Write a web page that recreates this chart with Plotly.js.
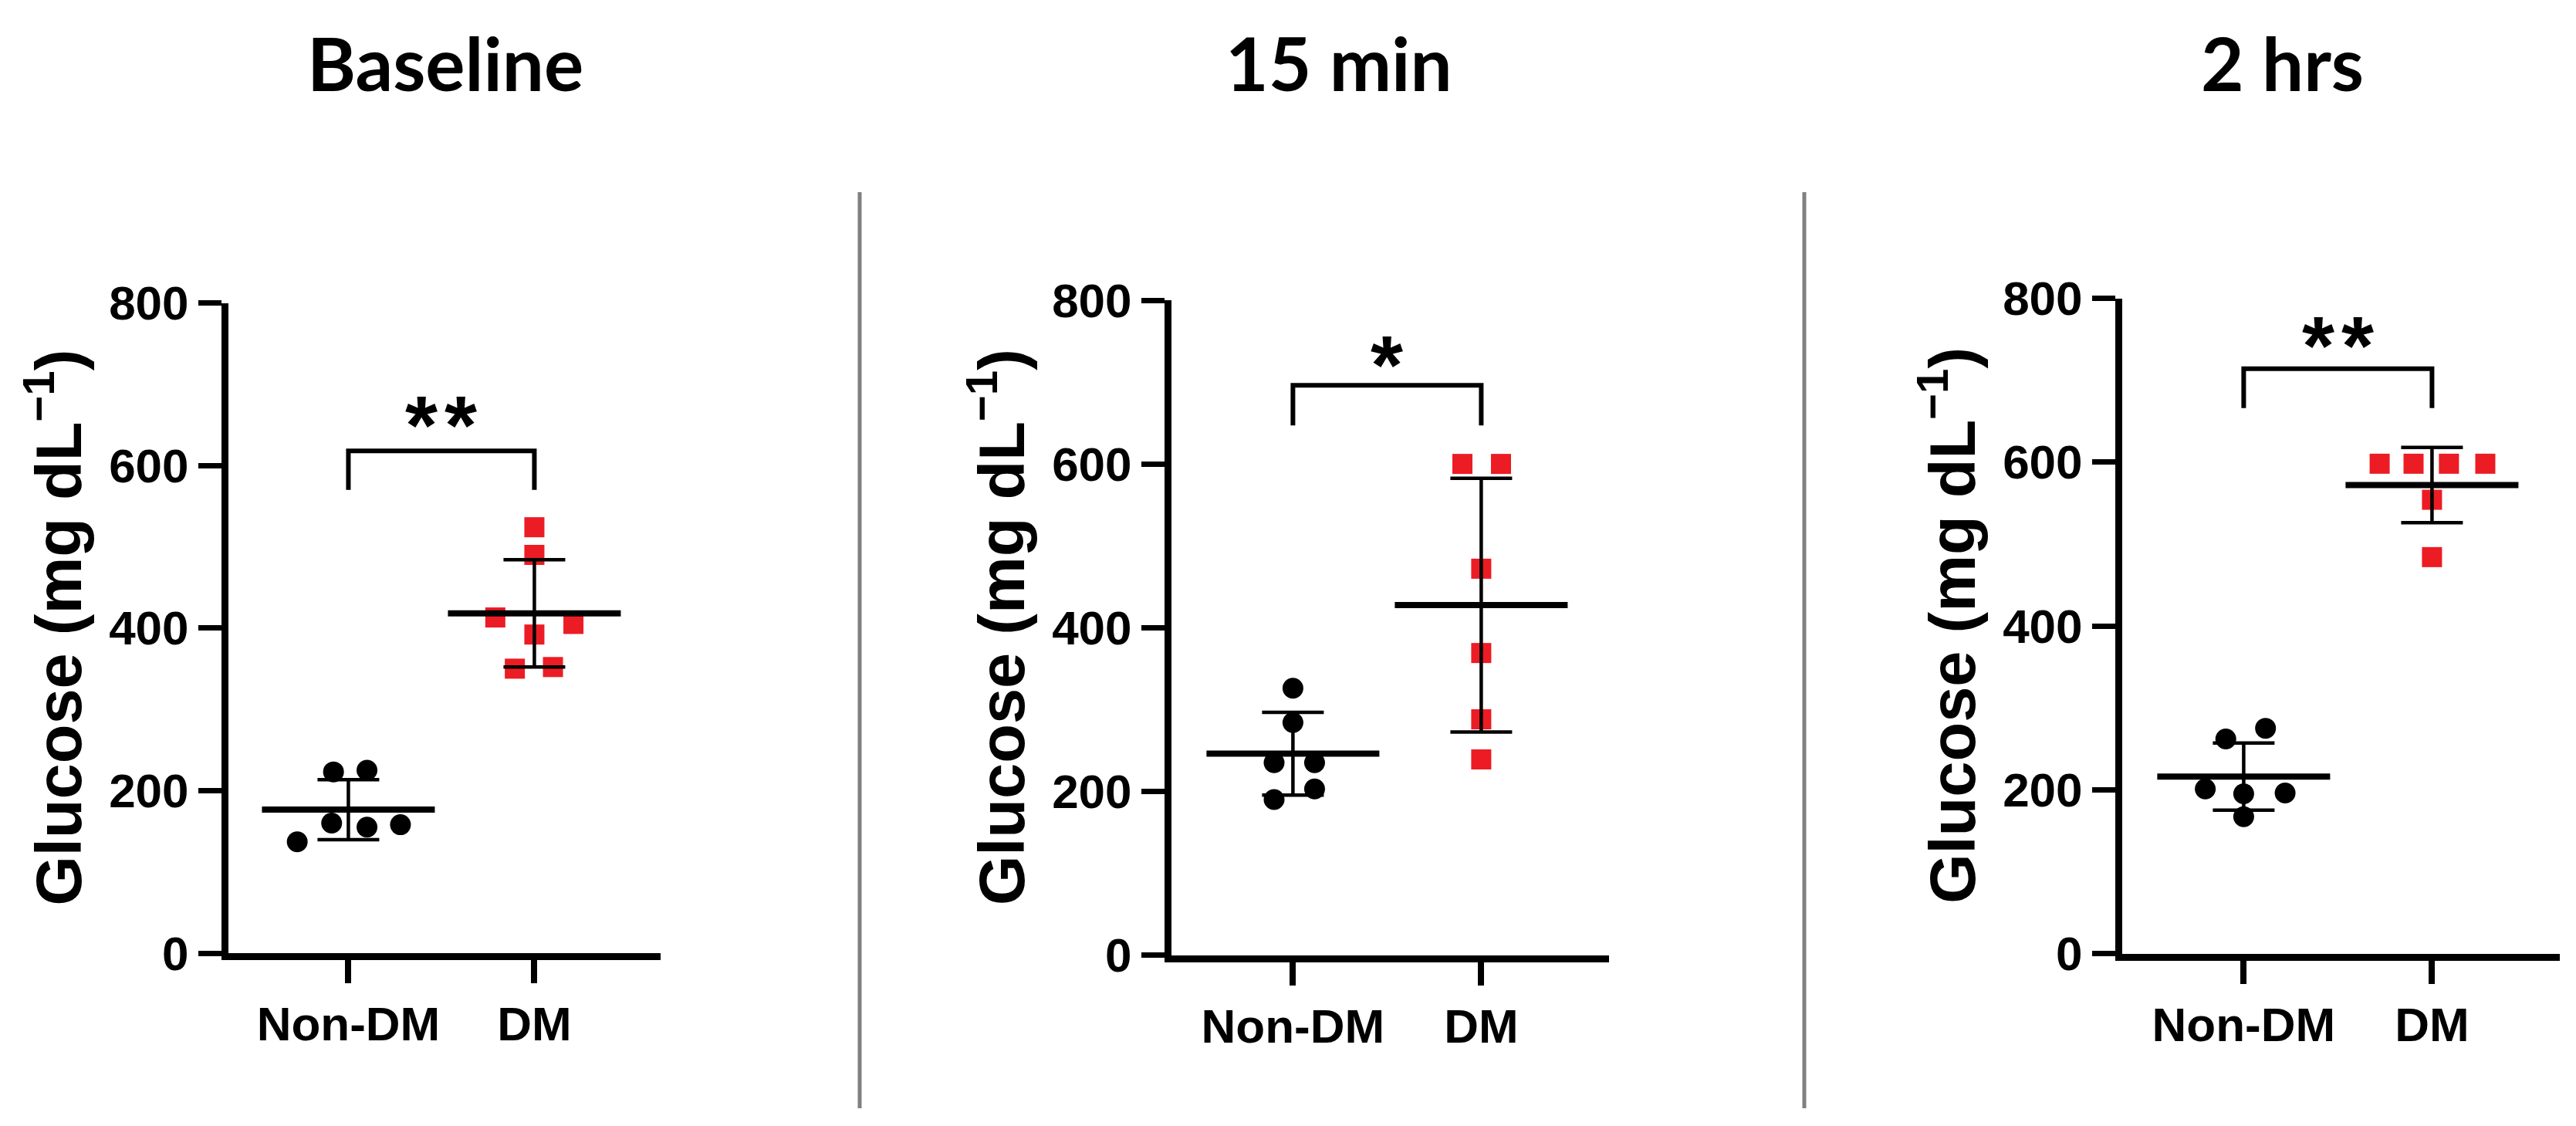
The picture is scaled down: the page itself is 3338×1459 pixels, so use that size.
<!DOCTYPE html>
<html><head><meta charset="utf-8">
<script src="https://cdn.plot.ly/plotly-3.0.1.min.js"></script>
<style>html,body{margin:0;padding:0;background:#fff;}</style>
</head><body><div id="chart" style="width:3338px;height:1459px;"></div>
<script>
// ---------- data ----------
const panelTitles = ['Baseline', '15 min', '2 hrs'];
const categories = ['Non-DM', 'DM'];
const yTickVals = [0, 200, 400, 600, 800];
const yAxisTitle = 'Glucose (mg dL<sup>−1</sup>)';

// Baseline
const baselineNonDM = [223, 225, 160, 155, 158, 137];
const baselineNonDMJitter = [-0.08, 0.10, -0.09, 0.10, 0.28, -0.275];
const baselineDM = [524, 490, 413, 405, 392, 350, 352];
const baselineDMJitter = [0, 0, -0.21, 0.21, 0, -0.105, 0.10];

// 15 min
const min15NonDM = [326, 284, 235, 235, 203, 190];
const min15NonDMJitter = [0, 0, -0.10, 0.115, 0.115, -0.10];
const min15DM = [600, 600, 472, 369, 288, 239];
const min15DMJitter = [-0.10, 0.105, 0, 0, 0, 0];

// 2 hrs
const hrs2NonDM = [262, 275, 201, 195, 196, 167];
const hrs2NonDMJitter = [-0.095, 0.116, -0.204, 0, 0.22, 0];
const hrs2DM = [598, 598, 598, 598, 554, 484];
const hrs2DMJitter = [-0.278, -0.098, 0.09, 0.283, 0, 0];

// mean and SD (as drawn)
const meanNonDM = [176.5, 246, 216];
const sdNonDM = [37, 50.5, 41];
const meanDM = [418, 427.5, 572];
const sdDM = [66, 155, 46];

// significance brackets
const sigLabels = ['**', '*', '**'];
const bracketTop = [618, 696, 714];
const bracketLeg = [570, 647, 666];
const sigY = [673, 744, 765];

// ---------- layout helpers ----------
const W = 3338, H = 1459;
const px = v => v / W;
const py = v => 1 - v / H;

const nonDMSets = [baselineNonDM, min15NonDM, hrs2NonDM];
const nonDMJit = [baselineNonDMJitter, min15NonDMJitter, hrs2NonDMJitter];
const dmSets = [baselineDM, min15DM, hrs2DM];
const dmJit = [baselineDMJitter, min15DMJitter, hrs2DMJitter];

// plot-area pixel boxes [left, right, top, bottom]
const boxes = [
  [296, 855.6, 392.5, 1235],
  [1518, 2084.6, 389, 1237.5],
  [2750, 3316.6, 386.5, 1235.5]
];
const axisLineX = [292, 1514, 2746];
const titleCenters = [577, 1735, 2957];

const FONT = '"Liberation Sans", Arial, sans-serif';
const RED = 'rgb(236,28,36)';

const traces = [];
const layout = {
  width: W, height: H,
  margin: {l: 0, r: 0, t: 0, b: 0},
  paper_bgcolor: '#fff', plot_bgcolor: '#fff',
  showlegend: false,
  shapes: [], annotations: []
};

for (let i = 0; i < 3; i++) {
  const n = i === 0 ? '' : String(i + 1);
  const xa = 'x' + n, ya = 'y' + n;
  const b = boxes[i];

  traces.push({
    type: 'scatter', mode: 'markers', xaxis: xa, yaxis: ya,
    x: nonDMJit[i].map(j => 0 + j), y: nonDMSets[i],
    marker: {symbol: 'circle', size: 27, color: '#000'},
    hoverinfo: 'y'
  });
  traces.push({
    type: 'scatter', mode: 'markers', xaxis: xa, yaxis: ya,
    x: dmJit[i].map(j => 1 + j), y: dmSets[i],
    marker: {symbol: 'square', size: 26, color: RED},
    hoverinfo: 'y'
  });
  traces.push({
    type: 'scatter', mode: 'markers', xaxis: xa, yaxis: ya,
    x: [0, 1], y: [meanNonDM[i], meanDM[i]],
    error_y: {type: 'data', array: [sdNonDM[i], sdDM[i]], visible: true,
              color: '#000', thickness: 4.5, width: 40},
    marker: {symbol: 'line-ew', size: 160, color: '#000',
             line: {color: '#000', width: 8}},
    hoverinfo: 'y'
  });

  const axCommon = {
    showline: true, linewidth: 9, linecolor: '#000',
    ticks: 'outside', ticklen: 30, tickcolor: '#000',
    tickfont: {family: FONT, size: 62, color: '#000', weight: 'bold'},
    showgrid: false, zeroline: false, fixedrange: true
  };
  layout['xaxis' + n] = Object.assign({}, axCommon, {
    domain: [px(b[0]), px(b[1])], range: [-0.645, 1.677],
    tickvals: [0, 1], ticktext: categories, tickwidth: 8,
    anchor: ya
  });
  layout['yaxis' + n] = Object.assign({}, axCommon, {
    domain: [py(b[3]), py(b[2])], range: [0, 800],
    tickvals: yTickVals, tickwidth: 7,
    anchor: xa
  });

  // significance bracket
  layout.shapes.push({
    type: 'path', xref: xa, yref: ya,
    path: `M 0,${bracketLeg[i]} L 0,${bracketTop[i]} L 1,${bracketTop[i]} L 1,${bracketLeg[i]}`,
    line: {color: '#000', width: 6}
  });
  layout.annotations.push({
    xref: xa, yref: ya, x: 0.5, y: sigY[i], text: sigLabels[i].split('').join('\u200A'),
    showarrow: false, xanchor: 'center', yanchor: 'middle', yshift: -24,
    font: {family: FONT, size: 108, color: '#000', weight: 'bold'}
  });

  // y-axis title
  layout.annotations.push({
    xref: 'paper', yref: 'paper',
    x: px(axisLineX[i] - 222), y: py((b[2] + b[3]) / 2),
    text: yAxisTitle, textangle: -90, showarrow: false,
    xanchor: 'center', yanchor: 'middle',
    font: {family: FONT, size: 83, color: '#000', weight: 'bold'}
  });

  // panel title
  layout.annotations.push({
    xref: 'paper', yref: 'paper',
    x: px(titleCenters[i]), y: py(81),
    text: panelTitles[i], showarrow: false,
    xanchor: 'center', yanchor: 'middle',
    font: {family: 'Lato, "Open Sans", sans-serif', size: 96, color: '#000', weight: 'bold'}
  });
}

// grey separators between panels
[1114, 2338].forEach(xp => {
  layout.shapes.push({
    type: 'line', xref: 'paper', yref: 'paper',
    x0: px(xp), x1: px(xp), y0: py(249), y1: py(1436),
    line: {color: '#808080', width: 5}
  });
});

Plotly.newPlot('chart', traces, layout, {staticPlot: true, displayModeBar: false});
</script>
</body></html>
